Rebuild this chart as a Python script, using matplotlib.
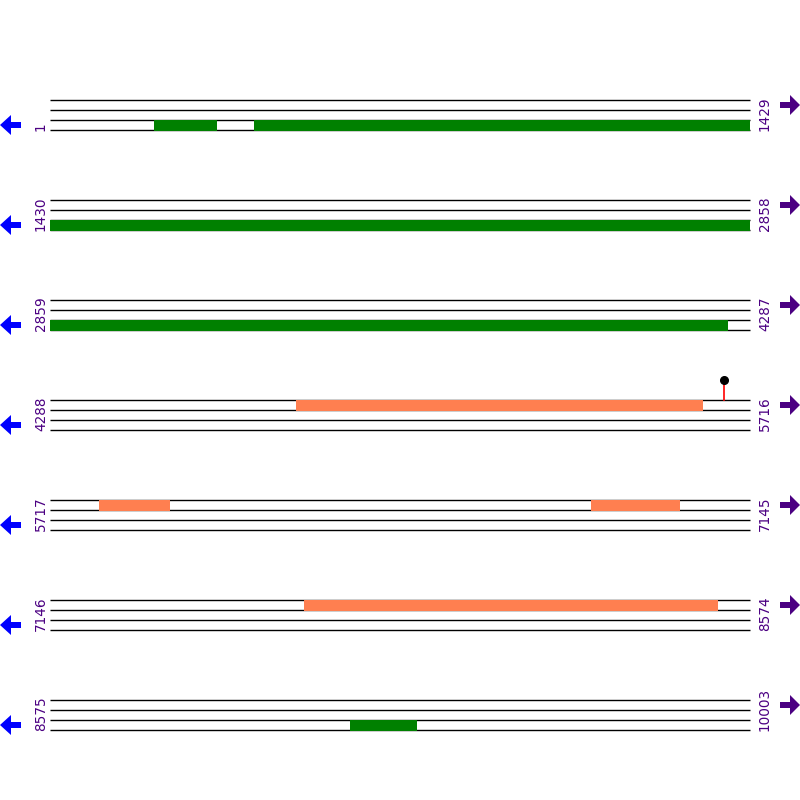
import matplotlib
matplotlib.use("Agg")
import matplotlib.pyplot as plt
from matplotlib.patches import Polygon, Rectangle

# ---- data ----
seq_length = 10003
row_bp = 1429
n_rows = 7
row_starts = [1, 1430, 2859, 4288, 5717, 7146, 8575]
row_ends = [1429, 2858, 4287, 5716, 7145, 8574, 10003]

green_starts = [213, 417, 9187]
green_ends = [340, 4243, 9324]
green_lane = 2            # lanes 0..3 top->bottom; bar sits below lane line

orange_starts = [4790, 5817, 6821, 7664]
orange_ends = [5621, 5960, 7003, 8509]
orange_lane = 0

marker_pos = [5664]

# ---- layout ----
fig = plt.figure(figsize=(8, 8), dpi=100)
ax = fig.add_axes([0, 0, 1, 1])
ax.set_xlim(0, 800)
ax.set_ylim(800, 0)
ax.axis("off")

X0, X1 = 50, 750
ROW_TOP0 = 100
ROW_GAP = 100
LANE_H = 10
GREEN = "#008000"
ORANGE = "#FF7F50"
PURPLE = "#4B0082"
BLUE = "#0000FF"


def bp_to_x(bp, row_start, end=False):
    off = bp - row_start + (1 if end else 0)
    return X0 + off / row_bp * (X1 - X0)


def draw_feature(s, e, lane, color):
    for r in range(n_rows):
        rs, re_ = row_starts[r], row_ends[r]
        if e < rs or s > re_:
            continue
        a = max(s, rs)
        b = min(e, re_)
        xa = bp_to_x(a, rs)
        xb = bp_to_x(b, rs, end=True)
        ytop = ROW_TOP0 + r * ROW_GAP + lane * LANE_H
        ax.add_patch(Rectangle((xa, ytop - 0.5), xb - xa, LANE_H + 1.0,
                               facecolor=color, edgecolor="none", zorder=4))


for r in range(n_rows):
    ytop = ROW_TOP0 + r * ROW_GAP
    for k in range(4):
        ax.plot([X0, X1], [ytop + k * LANE_H] * 2, color="black", lw=1.0,
                zorder=3, solid_capstyle="butt")
    ybot = ytop + 3 * LANE_H
    ax.text(41, ybot + 1, str(row_starts[r]), rotation=90, ha="center",
            va="bottom", color=PURPLE, fontsize=9.8, family="DejaVu Sans")
    ax.text(765, ybot + 1, str(row_ends[r]), rotation=90, ha="center",
            va="bottom", color=PURPLE, fontsize=9.8, family="DejaVu Sans")
    # left (reverse) arrow, blue
    cy = ytop + 25
    ax.add_patch(Polygon([(0, cy), (11, cy - 10), (11, cy - 3), (21, cy - 3),
                          (21, cy + 3), (11, cy + 3), (11, cy + 10)],
                         closed=True, facecolor=BLUE, edgecolor="none"))
    # right (forward) arrow, purple
    cy = ytop + 5
    ax.add_patch(Polygon([(800, cy), (790, cy - 10), (790, cy - 3), (780, cy - 3),
                          (780, cy + 3), (790, cy + 3), (790, cy + 10)],
                         closed=True, facecolor=PURPLE, edgecolor="none"))

for s, e in zip(green_starts, green_ends):
    draw_feature(s, e, green_lane, GREEN)
for s, e in zip(orange_starts, orange_ends):
    draw_feature(s, e, orange_lane, ORANGE)

for p in marker_pos:
    r = (p - 1) // row_bp
    x = bp_to_x(p, row_starts[r])
    ytop = ROW_TOP0 + r * ROW_GAP
    ax.plot([x, x], [ytop, ytop - 20], color="red", lw=1.2, zorder=5)
    ax.plot([x], [ytop - 20], "o", color="black", ms=5.5, zorder=6)

fig.savefig("out.png", dpi=100)
